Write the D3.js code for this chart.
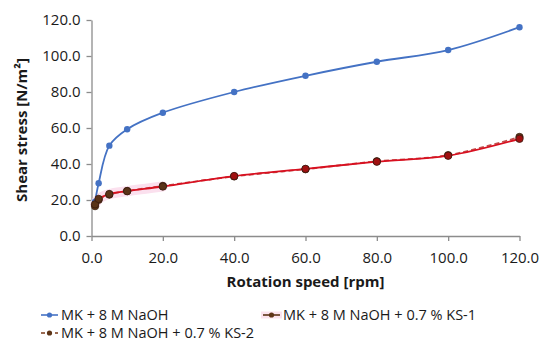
<!DOCTYPE html>
<html><head><meta charset="utf-8">
<script src="https://cdn.jsdelivr.net/npm/d3@7"></script>
<style>
body{margin:0;background:#fff;}
svg{display:block;font-family:"Open Sans",sans-serif;}
</style></head>
<body><svg id="c" width="550" height="359"></svg>
<script>
const speeds = [1, 2, 5, 10, 20, 40, 60, 80, 100, 120];
const naoh   = [19.0, 29.3, 50.2, 59.3, 68.5, 80.0, 89.0, 96.8, 103.3, 116.0];
const ks1    = [17.6, 20.6, 23.3, 24.9, 27.5, 33.3, 37.3, 41.3, 44.6, 54.0];
const ks2    = [16.6, 20.1, 23.0, 25.0, 27.8, 33.1, 37.1, 41.5, 44.9, 55.0];
const xTicks = [0, 20, 40, 60, 80, 100, 120];
const yTicks = [0, 20, 40, 60, 80, 100, 120];
const seriesNames = ["MK + 8 M NaOH", "MK + 8 M NaOH + 0.7 % KS-1", "MK + 8 M NaOH + 0.7 % KS-2"];

const svg = d3.select("#c");
const x = d3.scaleLinear().domain([0,120]).range([91.5,519.5]);
const y = d3.scaleLinear().domain([0,120]).range([236,20]);
const axisCol = "#8c8c8c";
const fmt = d3.format(".1f");

// axes
const xa = svg.append("g").attr("transform","translate(0,236)")
  .call(d3.axisBottom(x).tickValues(xTicks).tickFormat(fmt).tickSize(5).tickSizeOuter(0));
const ya = svg.append("g").attr("transform","translate(91.5,0)")
  .call(d3.axisLeft(y).tickValues(yTicks).tickFormat(fmt).tickSize(5).tickSizeOuter(0));
[xa,ya].forEach(a=>{
  a.selectAll("path,line").attr("stroke",axisCol).attr("stroke-width",1.3);
  a.selectAll("text").attr("fill","#1a1a1a").style("font-size","15px").style("font-family","Open Sans");
});
xa.selectAll("text").attr("dy","1.25em");
ya.selectAll("text").attr("x",-11);

// titles
svg.append("text").attr("x",305.5).attr("y",287).attr("text-anchor","middle")
  .style("font-size","15px").style("font-weight","bold").attr("fill","#1a1a1a").text("Rotation speed [rpm]");
svg.append("text").attr("transform","translate(27,130) rotate(-90)").attr("text-anchor","middle")
  .style("font-size","15px").style("font-weight","bold").attr("fill","#1a1a1a").text("Shear stress [N/m²]");

const line = d3.line().x(d=>x(d[0])).y(d=>y(d[1])).curve(d3.curveCatmullRom.alpha(0.5));
const pts = vals => speeds.map((s,i)=>[s,vals[i]]);

// glow under KS-1 early portion
svg.append("path").datum(pts(ks1).slice(0,5)).attr("d",line)
  .attr("fill","none").attr("stroke","#fbe0ee").attr("stroke-width",10).attr("stroke-linecap","round");

// KS-2 dashed
svg.append("path").datum(pts(ks2)).attr("d",line).attr("fill","none")
  .attr("stroke","#c0504d").attr("stroke-width",1.8).attr("stroke-dasharray","5,3");
// KS-1 solid
svg.append("path").datum(pts(ks1)).attr("d",line).attr("fill","none")
  .attr("stroke","#d81020").attr("stroke-width",1.8);
// blue
svg.append("path").datum(pts(naoh)).attr("d",line).attr("fill","none")
  .attr("stroke","#4472c4").attr("stroke-width",1.8);

// markers
svg.append("g").selectAll("circle").data(pts(naoh)).join("circle")
  .attr("cx",d=>x(d[0])).attr("cy",d=>y(d[1])).attr("r",3.2).attr("fill","#4472c4");
svg.append("g").selectAll("circle").data(pts(ks2)).join("circle")
  .attr("cx",d=>x(d[0])).attr("cy",d=>y(d[1])).attr("r",3.7).attr("fill","#5e3517").attr("stroke","#3a2010").attr("stroke-width",0.8);
svg.append("g").selectAll("circle").data(pts(ks1)).join("circle")
  .attr("cx",d=>x(d[0])).attr("cy",d=>y(d[1])).attr("r",3.7).attr("fill",(d,i)=>i<5?"#5a3318":"#a01010").attr("stroke","#3a1a10").attr("stroke-width",0.8);

// legend
const leg = [
  {x:41, y:315, col:"#4472c4", mk:"#4472c4", dash:null, glow:false},
  {x:263, y:315, col:"#5e3517", mk:"#5e3517", dash:null, glow:true},
  {x:41, y:333, col:"#7a3a1a", mk:"#5e3517", dash:"4,3", glow:false}
];
leg.forEach((l,i)=>{
  const g = svg.append("g");
  if(l.glow) g.append("line").attr("x1",l.x-2).attr("x2",l.x+19).attr("y1",l.y).attr("y2",l.y)
    .attr("stroke","#fbe3ee").attr("stroke-width",7);
  g.append("line").attr("x1",l.x).attr("x2",l.x+17).attr("y1",l.y).attr("y2",l.y)
    .attr("stroke",l.col).attr("stroke-width",1.6).attr("stroke-dasharray",l.dash);
  g.append("circle").attr("cx",l.x+8.5).attr("cy",l.y).attr("r",2.6).attr("fill",l.mk);
  g.append("text").attr("x",l.x+20).attr("y",l.y).attr("dy","0.35em")
    .style("font-size","14.5px").attr("fill","#1a1a1a").text(seriesNames[i]);
});
</script></body></html>
